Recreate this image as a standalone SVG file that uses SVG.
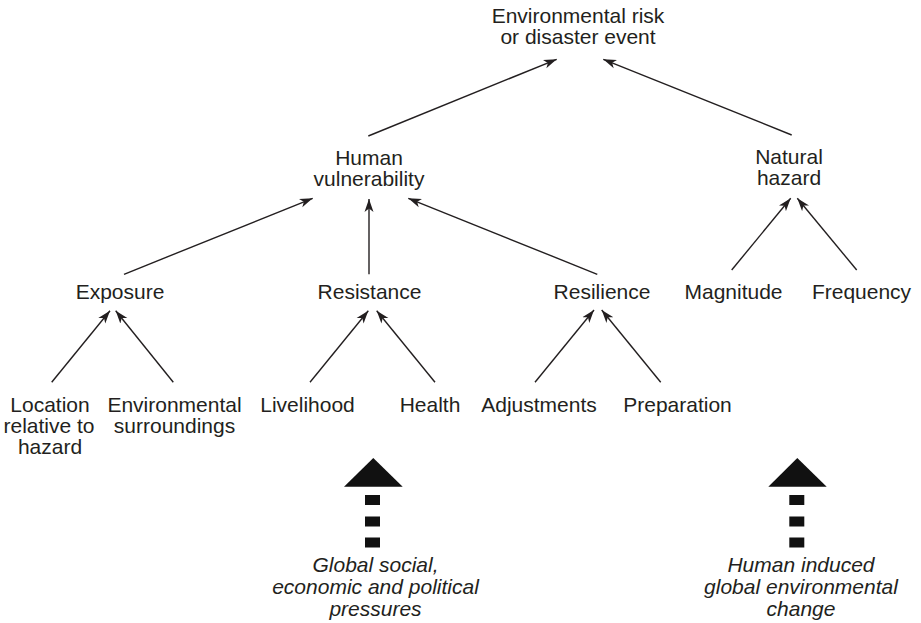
<svg xmlns="http://www.w3.org/2000/svg" width="921" height="623" viewBox="0 0 921 623">
<style>
text{font-family:"Liberation Sans",Arial,Helvetica,sans-serif;font-size:21px;fill:#231f20;text-anchor:middle}
text.it{font-style:italic}
.c line{stroke:#231f20;stroke-width:1.4;fill:none;marker-end:url(#ah)}
.big{fill:#111}
</style>
<defs>
<marker id="ah" markerUnits="userSpaceOnUse" markerWidth="14" markerHeight="10" viewBox="0 0 14 10" refX="13" refY="5" orient="auto">
<path d="M0,0.5 L13,5 L0,9.5 L3.5,5 z" fill="#231f20"/>
</marker>
</defs>
<rect width="921" height="623" fill="#fff"/>
<g class="c" id="connectors">
<line x1="368.3" y1="136" x2="556.7" y2="59.3"/>
<line x1="791.7" y1="135" x2="603.3" y2="59.3"/>
<line x1="124" y1="274.3" x2="312.7" y2="198.3"/>
<line x1="369" y1="274.3" x2="369" y2="199"/>
<line x1="597.3" y1="274.3" x2="408.3" y2="198.3"/>
<line x1="731.7" y1="270" x2="790.7" y2="198.3"/>
<line x1="856.7" y1="270" x2="797.3" y2="198.3"/>
<line x1="51.7" y1="382.3" x2="110" y2="310.7"/>
<line x1="173.3" y1="382.3" x2="115.7" y2="310.7"/>
<line x1="310" y1="382.3" x2="368.3" y2="310.7"/>
<line x1="435" y1="382.3" x2="376.7" y2="310.7"/>
<line x1="535" y1="382.3" x2="594" y2="310"/>
<line x1="660.7" y1="382.3" x2="601.7" y2="310"/>
</g>
<g id="title"><text x="578" y="23">Environmental risk</text><text x="578" y="44">or disaster event</text></g>
<g id="human-vulnerability"><text x="369" y="165">Human</text><text x="369" y="186">vulnerability</text></g>
<g id="natural-hazard"><text x="789" y="164">Natural</text><text x="789" y="185">hazard</text></g>
<g id="exposure"><text x="120" y="299">Exposure</text></g>
<g id="resistance"><text x="369.5" y="299">Resistance</text></g>
<g id="resilience"><text x="602" y="299">Resilience</text></g>
<g id="magnitude"><text x="733.5" y="299">Magnitude</text></g>
<g id="frequency"><text x="861.5" y="299">Frequency</text></g>
<g id="location"><text x="50" y="412">Location</text><text x="49" y="433">relative to</text><text x="50" y="454">hazard</text></g>
<g id="environmental-surroundings"><text x="174.5" y="412">Environmental</text><text x="174.5" y="433">surroundings</text></g>
<g id="livelihood"><text x="307.5" y="412">Livelihood</text></g>
<g id="health"><text x="430" y="412">Health</text></g>
<g id="adjustments"><text x="539" y="412">Adjustments</text></g>
<g id="preparation"><text x="677.5" y="412">Preparation</text></g>
<g id="global-pressures">
<polygon class="big" points="373.3,458 344,486.7 402.7,486.7"/>
<rect class="big" x="365" y="495" width="15" height="10"/>
<rect class="big" x="365" y="516.5" width="15" height="10"/>
<rect class="big" x="365" y="537.5" width="15" height="10"/>
<text class="it" x="375.5" y="571.5">Global social,</text>
<text class="it" x="375.5" y="594">economic and political</text>
<text class="it" x="375.5" y="615.5">pressures</text>
</g>
<g id="environmental-change">
<polygon class="big" points="797.3,458 768.3,486.7 826.7,486.7"/>
<rect class="big" x="789.3" y="495" width="15" height="10"/>
<rect class="big" x="789.3" y="516.5" width="15" height="10"/>
<rect class="big" x="789.3" y="537.5" width="15" height="10"/>
<text class="it" x="801" y="571.5">Human induced</text>
<text class="it" x="801" y="594">global environmental</text>
<text class="it" x="801" y="615.5">change</text>
</g>
</svg>
